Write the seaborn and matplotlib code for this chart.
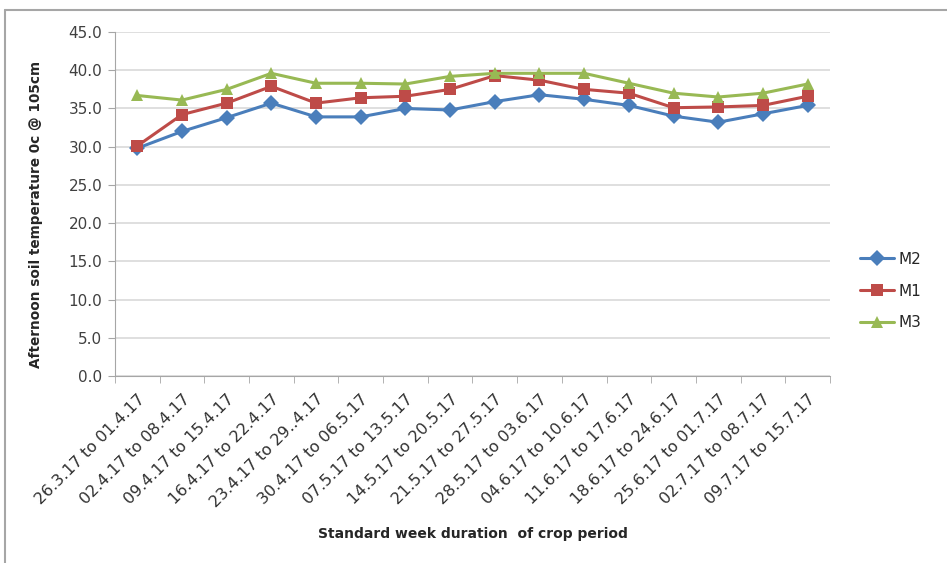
import pandas as pd
import matplotlib
matplotlib.use('Agg')
import matplotlib.pyplot as plt
from matplotlib.lines import Line2D
import seaborn as sns
import numpy as np

# data
weeks = ['26.3.17 to 01.4.17', '02.4.17 to 08.4.17', '09.4.17 to 15.4.17',
         '16.4.17 to 22.4.17', '23.4.17 to 29..4.17', '30.4.17 to 06.5.17',
         '07.5.17 to 13.5.17', '14.5.17 to 20.5.17', '21.5.17 to 27.5.17',
         '28.5.17 to 03.6.17', '04.6.17 to 10.6.17', '11.6.17 to 17.6.17',
         '18.6.17 to 24.6.17', '25.6.17 to 01.7.17', '02.7.17 to 08.7.17',
         '09.7.17 to 15.7.17']
m2 = [29.8, 32.0, 33.8, 35.7, 33.9, 33.9, 35.0, 34.8, 35.9, 36.8, 36.2, 35.4, 34.0, 33.2, 34.3, 35.4]
m1 = [30.1, 34.2, 35.7, 37.9, 35.7, 36.4, 36.6, 37.5, 39.3, 38.7, 37.5, 37.0, 35.1, 35.2, 35.4, 36.6]
m3 = [36.7, 36.1, 37.5, 39.6, 38.3, 38.3, 38.2, 39.2, 39.6, 39.6, 39.6, 38.3, 37.0, 36.5, 37.0, 38.2]
series = ['M2', 'M1', 'M3']
colors = {'M2': '#4a7ebb', 'M1': '#be4b48', 'M3': '#98b954'}
marks = {'M2': 'D', 'M1': 's', 'M3': '^'}

df = pd.DataFrame({'week': list(range(len(weeks))) * 3,
                   'temp': m2 + m1 + m3,
                   'series': ['M2'] * 16 + ['M1'] * 16 + ['M3'] * 16})

sns.set_style('white')
plt.rcParams['font.family'] = ['DejaVu Sans']

fig = plt.figure(figsize=(9.47, 5.63), dpi=100)
ax = fig.add_axes([0.1214, 0.3321, 0.755, 0.611])

sns.lineplot(data=df, x='week', y='temp', hue='series', style='series',
             hue_order=series, style_order=series, palette=colors,
             markers=marks, dashes=False, markersize=8, linewidth=2.2,
             markeredgewidth=0, ax=ax, sort=False)

yt = np.arange(0, 45.1, 5)
ax.set_ylim(0, 45)
ax.set_yticks(yt)
ax.set_yticklabels([f'{v:.1f}' for v in yt], fontsize=11, color='#404040')
ax.set_xlim(-0.5, len(weeks) - 0.5)
ax.set_xticks(range(len(weeks)))
ax.set_xticklabels(weeks, rotation=45, ha='right', rotation_mode='anchor',
                   fontsize=11.5, color='#303030')
ax.set_xticks(np.arange(-0.5, len(weeks), 1), minor=True)
ax.tick_params(axis='x', which='major', length=0, pad=11)
ax.tick_params(axis='x', which='minor', length=5, color='#a6a6a6', direction='out', bottom=True)
ax.tick_params(axis='y', length=5, color='#a6a6a6', direction='out', left=True, pad=4)
ax.grid(axis='y', color='#d9d9d9', linewidth=1.2)
for s in ['top', 'right']:
    ax.spines[s].set_visible(False)
for s in ['left', 'bottom']:
    ax.spines[s].set_color('#a6a6a6')

ax.set_xlabel('Standard week duration  of crop period', fontsize=10, fontweight='bold', labelpad=12)
ax.set_ylabel('Afternoon soil temperature 0c @ 105cm', fontsize=9.8, fontweight='bold')
ax.yaxis.set_label_coords(-0.1, 0.47)

leg = ax.legend(loc='center left', bbox_to_anchor=(1.042, 0.247), frameon=False,
                fontsize=11, handlelength=2.2, labelspacing=1.1, borderpad=0,
                borderaxespad=0, handletextpad=0.3)

# outer chart border (left and top edges visible)
fig.add_artist(Line2D([0.0053, 0.0053], [0, 0.982], transform=fig.transFigure,
                      color='#a6a6a6', linewidth=1.5))
fig.add_artist(Line2D([0.0053, 1], [0.982, 0.982], transform=fig.transFigure,
                      color='#a6a6a6', linewidth=1.5))

fig.savefig('out.png', dpi=100)
